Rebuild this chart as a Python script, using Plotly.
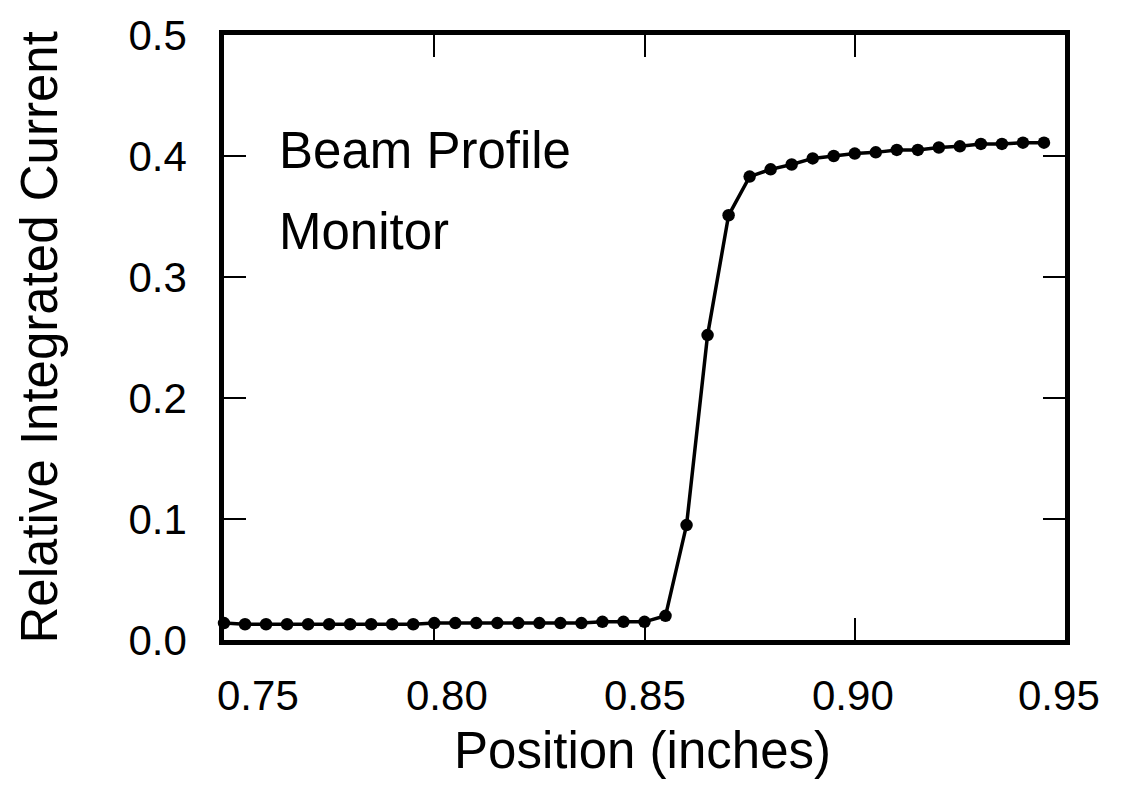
import plotly.graph_objects as go

# Beam profile scan: integrated current versus wire position
position_in = [
    0.750, 0.755, 0.760, 0.765, 0.770, 0.775, 0.780, 0.785, 0.790, 0.795,
    0.800, 0.805, 0.810, 0.815, 0.820, 0.825, 0.830, 0.835, 0.840, 0.845,
    0.850, 0.855, 0.860, 0.865, 0.870, 0.875, 0.880, 0.885, 0.890, 0.895,
    0.900, 0.905, 0.910, 0.915, 0.920, 0.925, 0.930, 0.935, 0.940, 0.945,
]
relative_current = [
    0.014, 0.013, 0.013, 0.013, 0.013, 0.013, 0.013, 0.013, 0.013, 0.013,
    0.014, 0.014, 0.014, 0.014, 0.014, 0.014, 0.014, 0.014, 0.015, 0.015,
    0.015, 0.020, 0.095, 0.252, 0.351, 0.383, 0.389, 0.393, 0.398, 0.400,
    0.402, 0.403, 0.405, 0.405, 0.407, 0.408, 0.410, 0.410, 0.411, 0.411,
]

x_ticks = [0.75, 0.80, 0.85, 0.90, 0.95]
x_tick_text = ["0.75", "0.80", "0.85", "0.90", "0.95"]
y_ticks = [0.0, 0.1, 0.2, 0.3, 0.4, 0.5]
y_tick_text = ["0.0", "0.1", "0.2", "0.3", "0.4", "0.5"]

FONT = "Liberation Sans, Arial, sans-serif"

fig = go.Figure()
fig.add_trace(go.Scatter(
    x=position_in,
    y=relative_current,
    mode="lines+markers",
    line=dict(color="black", width=3.5),
    marker=dict(color="black", size=12.5),
    showlegend=False,
    cliponaxis=False,
))

# x tick labels drawn as annotations so each can be nudged slightly
x_label_shift = [34, 13, 0, -2, -6]
annotations = []
for v, t, s in zip(x_ticks, x_tick_text, x_label_shift):
    annotations.append(dict(
        x=v, y=0, xref="x", yref="paper", text=t, showarrow=False,
        xanchor="center", yanchor="middle", yshift=-55, xshift=s,
        font=dict(family=FONT, size=42, color="black"),
    ))

annotations += [
    dict(x=0.5, y=0, xref="paper", yref="paper", text="Position (inches)",
         showarrow=False, xanchor="center", yanchor="middle", yshift=-110,
         xshift=-2, font=dict(family=FONT, size=51, color="black")),
    dict(x=0, y=0.5, xref="paper", yref="paper",
         text="Relative Integrated Current", textangle=-90, showarrow=False,
         xanchor="center", yanchor="middle", xshift=-185, yshift=0,
         font=dict(family=FONT, size=51, color="black")),
    dict(x=0.7625, y=0.4045, xref="x", yref="y", text="Beam Profile",
         showarrow=False, xanchor="left", yanchor="middle",
         font=dict(family=FONT, size=51, color="black")),
    dict(x=0.7625, y=0.3375, xref="x", yref="y", text="Monitor",
         showarrow=False, xanchor="left", yanchor="middle",
         font=dict(family=FONT, size=51, color="black")),
]

fig.update_layout(
    width=1122, height=796,
    margin=dict(l=224, r=57, t=27, b=156),
    paper_bgcolor="white", plot_bgcolor="white",
    annotations=annotations,
    xaxis=dict(
        range=[0.75, 0.95], tickvals=x_ticks, ticktext=x_tick_text,
        showticklabels=False, ticks="inside", ticklen=22, tickwidth=1.5,
        tickcolor="black", showline=True, linecolor="black", linewidth=4.5,
        mirror="ticks", showgrid=False, zeroline=False,
    ),
    yaxis=dict(
        range=[0.0, 0.5], tickvals=y_ticks, ticktext=y_tick_text,
        ticks="inside", ticklen=22, tickwidth=1.5, tickcolor="black",
        showline=True, linecolor="black", linewidth=4.5, mirror="ticks",
        showgrid=False, zeroline=False, ticklabelstandoff=24,
        tickfont=dict(family=FONT, size=42, color="black"),
    ),
)

fig.write_html("out.html")
